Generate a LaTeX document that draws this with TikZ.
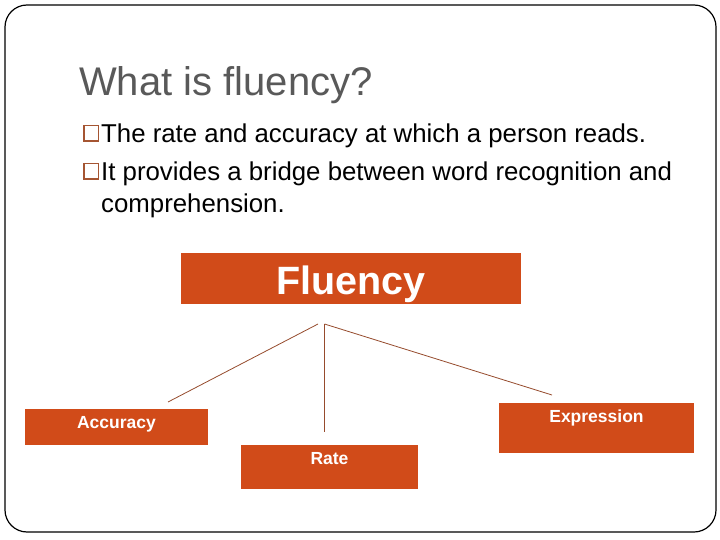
\documentclass[tikz,border=0pt]{standalone}
\usepackage{fontspec}
\setmainfont{Liberation Sans}
\definecolor{boxorange}{RGB}{209,75,25}
\definecolor{linebrown}{RGB}{150,75,45}
\definecolor{bulletbrown}{RGB}{165,85,50}
\definecolor{titlegray}{RGB}{89,89,89}
\begin{document}
\begin{tikzpicture}[x=1pt,y=-1pt,
  obox/.style={fill=boxorange, draw=none, inner sep=0pt},
  lbl/.style={text=white, font=\fontsize{17.5}{20}\selectfont\bfseries, inner sep=0pt},
  conn/.style={draw=linebrown, line width=0.8pt},
  bullet/.style={draw=bulletbrown, line width=1.6pt, minimum width=14.5pt, minimum height=15.5pt, inner sep=0pt},
  btext/.style={font=\fontsize{25.8}{30}\selectfont, inner sep=0pt, anchor=base west}]
\useasboundingbox (0,0) rectangle (720,540);
\fill[white] (0,0) rectangle (720,540);
% frame
\draw[line width=1.2pt, rounded corners=22pt] (5,5) rectangle (716,532);
% title
\node[anchor=base west, inner sep=0pt, text=titlegray, font=\fontsize{40}{46}\selectfont] (title) at (79,96) {What is fluency?};
% bullets
\node[bullet, anchor=south west] (b1) at (83.3,141.8) {};
\node[btext] (t1) at (101,142.5) {The rate and accuracy at which a person reads.};
\node[bullet, anchor=south west] (b2) at (83.3,179.8) {};
\node[btext] (t2) at (101,180.5) {It provides a bridge between word recognition and};
\node[btext] (t3) at (101,212.5) {comprehension.};
% boxes
\node[obox, minimum width=340pt, minimum height=51pt] (flu) at (351,278.5) {};
\node[anchor=base, inner sep=0pt, text=white, font=\fontsize{39.5}{44}\selectfont\bfseries] (flul) at (351,294) {Fluency};
\node[obox, minimum width=183pt, minimum height=36pt] (acc) at (116.5,427) {};
\node[obox, minimum width=177pt, minimum height=44pt] (rate) at (329.5,467) {};
\node[obox, minimum width=195pt, minimum height=50pt] (expr) at (596.5,428) {};
\node[lbl, anchor=base] (accl) at ([yshift=-20pt]acc.north) {Accuracy};
\node[lbl, anchor=base] (ratel) at ([yshift=-20pt]rate.north) {Rate};
\node[lbl, anchor=base] (exprl) at ([yshift=-20pt]expr.north) {Expression};
% connectors
\coordinate (hubL) at (318,324);
\coordinate (hub) at (324.5,324);
\coordinate (accEnd) at (168,402);
\coordinate (rateEnd) at (324.5,432);
\coordinate (exprEnd) at (552,395);
\draw[conn] (hubL) -- (accEnd);
\draw[conn] (hub) -- (rateEnd);
\draw[conn] (hub) -- (exprEnd);
\end{tikzpicture}
\end{document}
